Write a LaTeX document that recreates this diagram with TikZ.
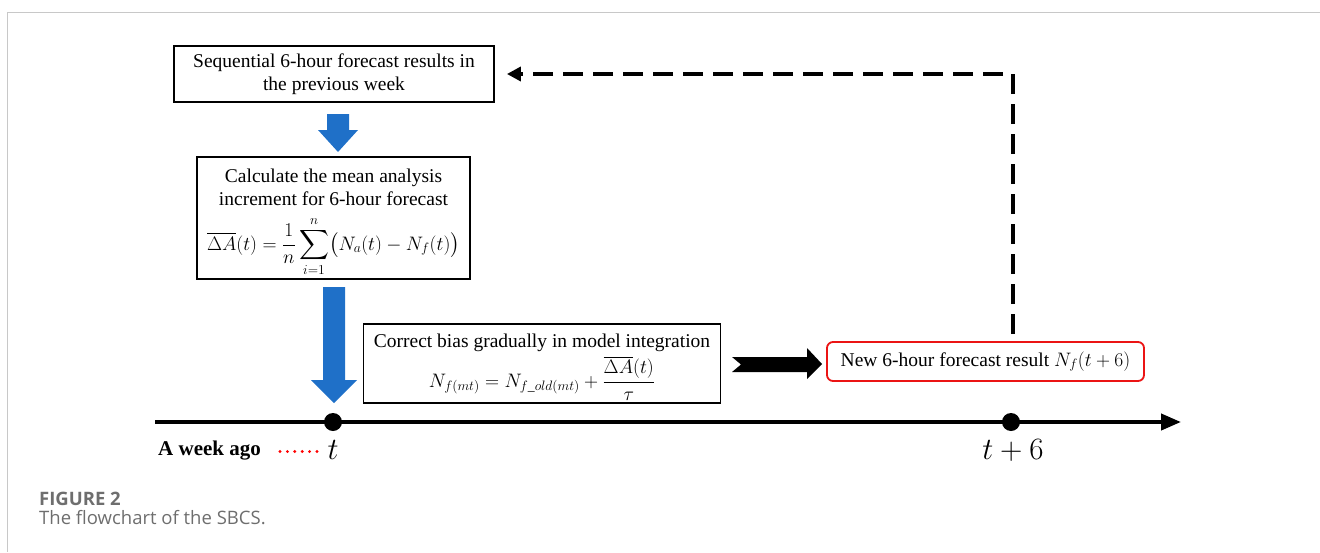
\RequirePackage{fix-cm}
\documentclass[tikz,border=0pt]{standalone}
\usepackage{fontspec}
\usepackage{amsmath}
\setmainfont{Liberation Serif}
\newfontfamily\capfont{Open Sans}
\usetikzlibrary{arrows.meta,calc}
\definecolor{flowblue}{RGB}{31,112,200}
\definecolor{framegray}{RGB}{200,200,200}
\definecolor{capgray}{RGB}{110,110,110}
\definecolor{boxred}{RGB}{235,20,20}
\tikzset{
  flowbox/.style={draw=black,line width=1.8pt,align=center,inner sep=0pt,
    font=\fontsize{19.5}{23}\selectfont},
  boxtext/.style={inner sep=0pt,anchor=base,font=\fontsize{19.5}{23}\selectfont},
  resbox/.style={draw=boxred,line width=1.8pt,rounded corners=6pt,inner sep=0pt,
    font=\fontsize{19.5}{22}\selectfont},
  bluearrow/.style={fill=flowblue,draw=none},
  feedback/.style={line width=4pt,dash pattern=on 20pt off 10pt,-{Triangle[length=14pt,width=14pt]}},
  timeline/.style={line width=4pt,-{Triangle[length=20pt,width=16pt]}},
  tdot/.style={circle,fill=black,minimum size=18pt,inner sep=0pt},
  ticklabel/.style={font=\fontsize{31}{34}\selectfont,anchor=base},
}
\begin{document}
\begin{tikzpicture}[x=1pt,y=-1pt]
\useasboundingbox (0,0) rectangle (1320,552);
% frame
\draw[framegray,line width=1.2pt] (1320,12.5) -- (7.5,12.5) -- (7.5,552);
% box 1
\node[flowbox,minimum width=320pt,minimum height=56pt] (b1) at (334,74)
  {Sequential 6-hour forecast results in\\the previous week};
% box 2
\node[flowbox,minimum width=273pt,minimum height=122pt] (b2) at (333.5,218) {};
\node[boxtext] (b2a) at (333.5,182) {Calculate the mean analysis};
\node[boxtext,text depth=0pt] (b2b) at (333.5,205) {increment for 6-hour forecast};
\node[boxtext] (b2f) at (333.5,250)
  {$\displaystyle\overline{\Delta A}(t)=\frac{1}{n}\sum_{i=1}^{n}\bigl(N_a(t)-N_f(t)\bigr)$};
% box 3
\node[flowbox,minimum width=357pt,minimum height=79pt] (b3) at (542,363.5) {};
\node[boxtext] (b3a) at (542,347) {Correct bias gradually in model integration};
\node[boxtext] (b3f) at (542,387)
  {$\displaystyle N_{f(mt)}=N_{f\_old(mt)}+\frac{\overline{\Delta A}(t)}{\tau}$};
% result box
\node[resbox,minimum width=317pt,minimum height=39pt] (b4) at (985.5,361.5)
  {New 6-hour forecast result $N_f(t+6)$};
% blue arrows
\fill[bluearrow] (327,114) -- (349,114) -- (349,130) -- (358,130) -- (338,152)
  -- (318,130) -- (327,130) -- cycle;
\fill[bluearrow] (323,287) -- (345,287) -- (345,380) -- (357,380) -- (334,403)
  -- (311,380) -- (323,380) -- cycle;
% black notched arrow
\fill[black] (732,357) -- (807,357) -- (807,348) -- (822,364) -- (807,379)
  -- (807,372) -- (732,372) -- (741,364.5) -- cycle;
% feedback dashed line
\coordinate (corner) at (1013,74);
\draw[feedback] ($(b4.north)+(27.5,-7)$) -- (corner) -- ($(b1.east)+(12,0)$);
% timeline
\coordinate (tstart) at (155,422);
\coordinate (tend) at (1181,422);
\draw[timeline] (tstart) -- (tend);
\node[tdot] (t0) at (333,422) {};
\node[tdot] (t6) at (1011,422) {};
\node[ticklabel] (lt0) at (333,459) {$t$};
\node[ticklabel] (lt6) at (1013,459) {$t+6$};
\node[anchor=base west,inner sep=0pt,font=\fontsize{21}{23}\selectfont\bfseries] (ago) at (158,455) {A week ago};
\foreach \k in {0,...,5} \fill[red] (280+7.4*\k,451.5) circle (1.6pt);
% caption
\node[anchor=base west,inner sep=0pt,text=capgray,font=\capfont\bfseries\fontsize{18.5}{20}\selectfont] (fig) at (39,505) {FIGURE 2};
\node[anchor=base west,inner sep=0pt,text=capgray,font=\capfont\fontsize{18.5}{20}\selectfont] (cap) at (39,524) {The flowchart of the SBCS.};
\end{tikzpicture}
\end{document}
